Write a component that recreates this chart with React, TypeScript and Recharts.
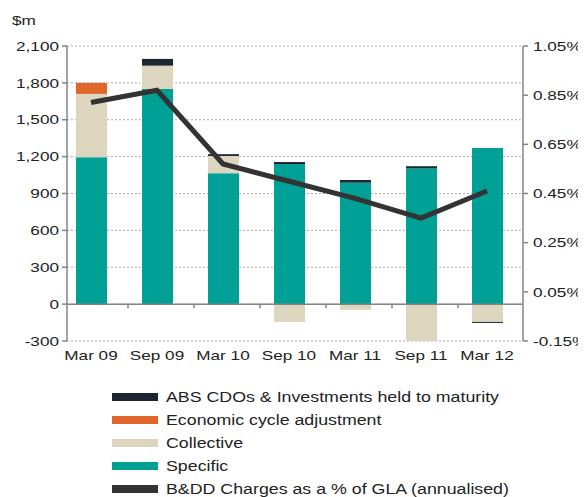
import { ComposedChart, Bar, Line, XAxis, YAxis, CartesianGrid, ReferenceLine } from 'recharts';

// ── Data ─────────────────────────────────────────────
const periods = ['Mar 09', 'Sep 09', 'Mar 10', 'Sep 10', 'Mar 11', 'Sep 11', 'Mar 12'];
const specific = [1195, 1750, 1065, 1140, 988, 1105, 1270];
const collective = [515, 190, 140, -145, -46, -300, -145];
const economicCycle = [90, 0, 0, 0, 0, 0, 0];
const absCdos = [0, 55, 15, 16, 22, 17, -8];
const bddPct = [0.82, 0.87, 0.57, 0.5, 0.43, 0.35, 0.46];

const leftTicks = [-300, 0, 300, 600, 900, 1200, 1500, 1800, 2100];
const rightTicks = [-0.15, 0.05, 0.25, 0.45, 0.65, 0.85, 1.05];

const COLORS = {
  specific: '#00a096',
  collective: '#ddd5bd',
  econ: '#e0652b',
  abs: '#1c2733',
  line: '#333333',
  axis: '#858585',
  grid: '#aaaaaa',
  text: '#222222',
};

const FONT = '"Liberation Sans", Arial, sans-serif';
const STRETCH = 1.32;

// plot geometry (chart coords)
const PLOT_TOP = 38;
const PLOT_H = 295;
const Y_MIN = -300;
const Y_MAX = 2100;
const ZERO_OFFSET = (PLOT_H * (0 - Y_MIN)) / (Y_MAX - Y_MIN);

const data = periods.map((p, i) => ({
  period: p,
  specific: specific[i],
  collective: collective[i],
  econ: economicCycle[i],
  abs: absCdos[i],
  pct: bddPct[i],
}));

const fmtNum = (v: number) => v.toLocaleString('en-US');

function LeftTick({ x, y, payload }: any) {
  return (
    <text
      x={x}
      y={y}
      textAnchor="end"
      dominantBaseline="central"
      fontSize={13}
      fontFamily={FONT}
      fill={COLORS.text}
      transform={`translate(${x} ${y}) scale(${STRETCH} 1) translate(${-x} ${-y})`}
    >
      {fmtNum(payload.value)}
    </text>
  );
}

function RightTick({ x, y, payload }: any) {
  return (
    <text
      x={x}
      y={y}
      textAnchor="start"
      dominantBaseline="central"
      fontSize={13}
      fontFamily={FONT}
      fill={COLORS.text}
      transform={`translate(${x} ${y}) scale(${STRETCH} 1) translate(${-x} ${-y})`}
    >
      {`${payload.value.toFixed(2)}%`}
    </text>
  );
}

function XTick({ x, y, payload, index }: any) {
  const zy = y - ZERO_OFFSET;
  const ty = y + 14;
  return (
    <g>
      {index < periods.length - 1 && (
        <line x1={x + 37} x2={x + 37} y1={zy} y2={zy + 4} stroke={COLORS.axis} strokeWidth={1.5} />
      )}
      <text
        x={x}
        y={ty}
        textAnchor="middle"
        dominantBaseline="central"
        fontSize={13}
        fontFamily={FONT}
        fill={COLORS.text}
        transform={`translate(${x} ${ty}) scale(${STRETCH} 1) translate(${-x} ${-ty})`}
      >
        {payload.value}
      </text>
    </g>
  );
}

const legendItems = [
  { label: 'ABS CDOs & Investments held to maturity', color: COLORS.abs },
  { label: 'Economic cycle adjustment', color: COLORS.econ },
  { label: 'Collective', color: COLORS.collective },
  { label: 'Specific', color: COLORS.specific },
  { label: 'B&DD Charges as a % of GLA (annualised)', color: COLORS.line },
];

export default function App() {
  return (
    <div style={{ position: 'relative', width: 578, height: 489, fontFamily: FONT }}>
      <div
        style={{
          position: 'absolute',
          left: 4,
          top: 5,
          fontSize: 13,
          color: COLORS.text,
          transform: `scaleX(${STRETCH})`,
          transformOrigin: 'left center',
        }}
      >
        $m
      </div>

      <ComposedChart
        width={578}
        height={363}
        data={data}
        stackOffset="sign"
        margin={{ top: PLOT_TOP, right: 0, bottom: 0, left: 0 }}
      >
        <CartesianGrid vertical={false} stroke={COLORS.grid} strokeDasharray="2 2" yAxisId="left" />
        <XAxis
          dataKey="period"
          height={30}
          axisLine={false}
          tickLine={false}
          tickSize={0}
          tickMargin={0}
          padding={{ left: -9, right: 3 }}
          tick={<XTick />}
          interval={0}
        />
        <YAxis
          yAxisId="left"
          orientation="left"
          width={59}
          domain={[Y_MIN, Y_MAX]}
          ticks={leftTicks}
          allowDataOverflow
          axisLine={{ stroke: COLORS.axis, strokeWidth: 1.5 }}
          tickLine={{ stroke: COLORS.axis, strokeWidth: 1.5 }}
          tickSize={5}
          tickMargin={3}
          tick={<LeftTick />}
          interval={0}
        />
        <YAxis
          yAxisId="right"
          orientation="right"
          width={63}
          domain={[-0.15, 1.05]}
          ticks={rightTicks}
          allowDataOverflow
          axisLine={{ stroke: COLORS.axis, strokeWidth: 1.5 }}
          tickLine={{ stroke: COLORS.axis, strokeWidth: 1.5 }}
          tickSize={5}
          tickMargin={5}
          tick={<RightTick />}
          interval={0}
        />

        <Bar yAxisId="left" dataKey="specific" stackId="s" fill={COLORS.specific} barSize={31} isAnimationActive={false} />
        <Bar yAxisId="left" dataKey="collective" stackId="s" fill={COLORS.collective} barSize={31} isAnimationActive={false} />
        <Bar yAxisId="left" dataKey="econ" stackId="s" fill={COLORS.econ} barSize={31} isAnimationActive={false} />
        <Bar yAxisId="left" dataKey="abs" stackId="s" fill={COLORS.abs} barSize={31} isAnimationActive={false} />

        <ReferenceLine yAxisId="left" y={0} stroke={COLORS.axis} strokeWidth={1.5} />

        <Line
          yAxisId="right"
          dataKey="pct"
          type="linear"
          stroke={COLORS.line}
          strokeWidth={5}
          dot={false}
          activeDot={false}
          isAnimationActive={false}
        />
      </ComposedChart>

      {legendItems.map((item, i) => (
        <div
          key={item.label}
          style={{
            position: 'absolute',
            left: 104,
            top: 379 + i * 23,
            height: 20,
            display: 'flex',
            alignItems: 'center',
          }}
        >
          <span style={{ display: 'inline-block', width: 46, height: 8, background: item.color }} />
          <span
            style={{
              marginLeft: 8,
              fontSize: 14,
              color: COLORS.text,
              whiteSpace: 'nowrap',
              transform: `scaleX(1.27)`,
              transformOrigin: 'left center',
            }}
          >
            {item.label}
          </span>
        </div>
      ))}
    </div>
  );
}
